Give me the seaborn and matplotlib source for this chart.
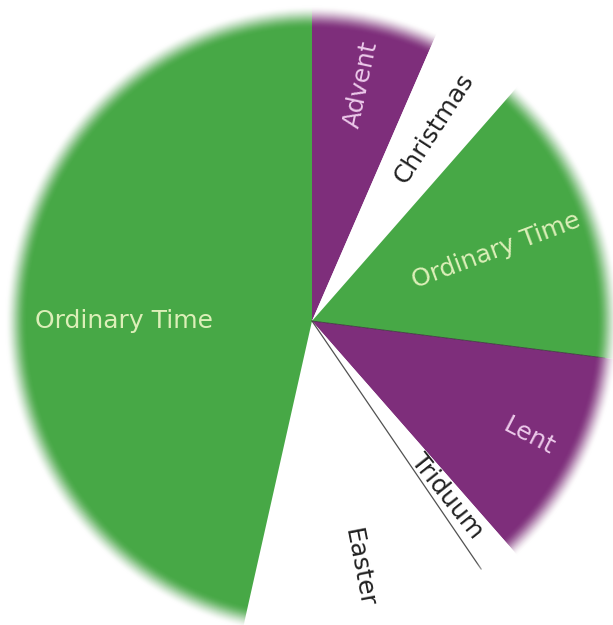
import numpy as np
import matplotlib
matplotlib.use("Agg")
import matplotlib.pyplot as plt
from matplotlib.patches import Wedge
import seaborn as sns

# Liturgical year pie (slice sizes, in degrees)
seasons = ['Advent', 'Christmas', 'Ordinary Time', 'Lent', 'Triduum', 'Easter', 'Ordinary Time']
sizes = [24, 18, 55, 41, 7, 48, 167]
season_colors = ['#7e2e7b', '#ffffff', '#47a846', '#7e2e7b', '#ffffff', '#ffffff', '#47a846']

text_colors = {'#7e2e7b': '#ecc9ea', '#47a846': '#dcefb8', '#ffffff': '#222222'}
label_r = [0.79, 0.75, 0.66, 0.82, 0.73, 0.82, 0.63]

sns.set_style('white')
plt.rcParams['font.family'] = ['DejaVu Sans']

fig = plt.figure(figsize=(6.13, 6.25), dpi=100)
ax = fig.add_axes([0, 0, 1, 1])

rx, ry = 298.0, 306.0
cx, cy = 312.0, 321.0
W, H = 613.0, 625.0
x0, x1 = -cx / rx, (W - cx) / rx
y0, y1 = -(H - cy) / ry, cy / ry

R = 1.03
wedges, _ = ax.pie(sizes, colors=season_colors, startangle=90, counterclock=False,
                   radius=R, wedgeprops=dict(linewidth=0))

# thin dark edges only where they show in the picture (OT/Lent, Triduum/Easter)
starts = 90 - np.cumsum([0] + sizes[:-1])
for idx, lw in [(3, 0.6), (5, 0.9)]:
    t = np.deg2rad(starts[idx])
    ax.plot([0, 0.99 * np.cos(t)], [0, 0.99 * np.sin(t)], color='#333333', lw=lw, alpha=0.85, zorder=3)

# soft feathered rim: white rings drawn from outside in, each one a bit more see-through
n = 24
r_in, r_out = 0.955, R
ring_r = np.linspace(r_in, r_out, n + 1)
for k in range(n):
    u = (k + 0.5) / n
    a = u * u * (3 - 2 * u)
    # each ring covers everything out to the rim, so alphas stack; use increments
    prev = ((k - 0.5) / n) if k > 0 else 0.0
    pa = prev * prev * (3 - 2 * prev) if k > 0 else 0.0
    inc = (a - pa) / (1 - pa) if pa < 1 else 1.0
    ax.add_patch(Wedge((0, 0), r_out + 0.01, 0, 360, width=r_out + 0.01 - ring_r[k],
                       facecolor='white', edgecolor='none', alpha=inc, zorder=4))
ax.add_patch(Wedge((0, 0), 1.3, 0, 360, width=1.3 - R, facecolor='white',
                   edgecolor='none', zorder=4))

# labels, written along the radius
for i, (name, s) in enumerate(zip(seasons, sizes)):
    mid = starts[i] - s / 2.0
    rot = mid
    if i == len(seasons) - 1:
        mid = 180
        rot = 0
    elif rot < -90:
        rot += 180
    t = np.deg2rad(mid)
    ax.text(label_r[i] * np.cos(t), label_r[i] * np.sin(t), name,
            rotation=rot, ha='center', va='center', fontsize=18,
            color=text_colors[season_colors[i]], zorder=5)

ax.set_xlim(x0, x1)
ax.set_ylim(y0, y1)
ax.set_aspect('auto')
ax.axis('off')

fig.savefig('out.png', dpi=100, facecolor='white')
